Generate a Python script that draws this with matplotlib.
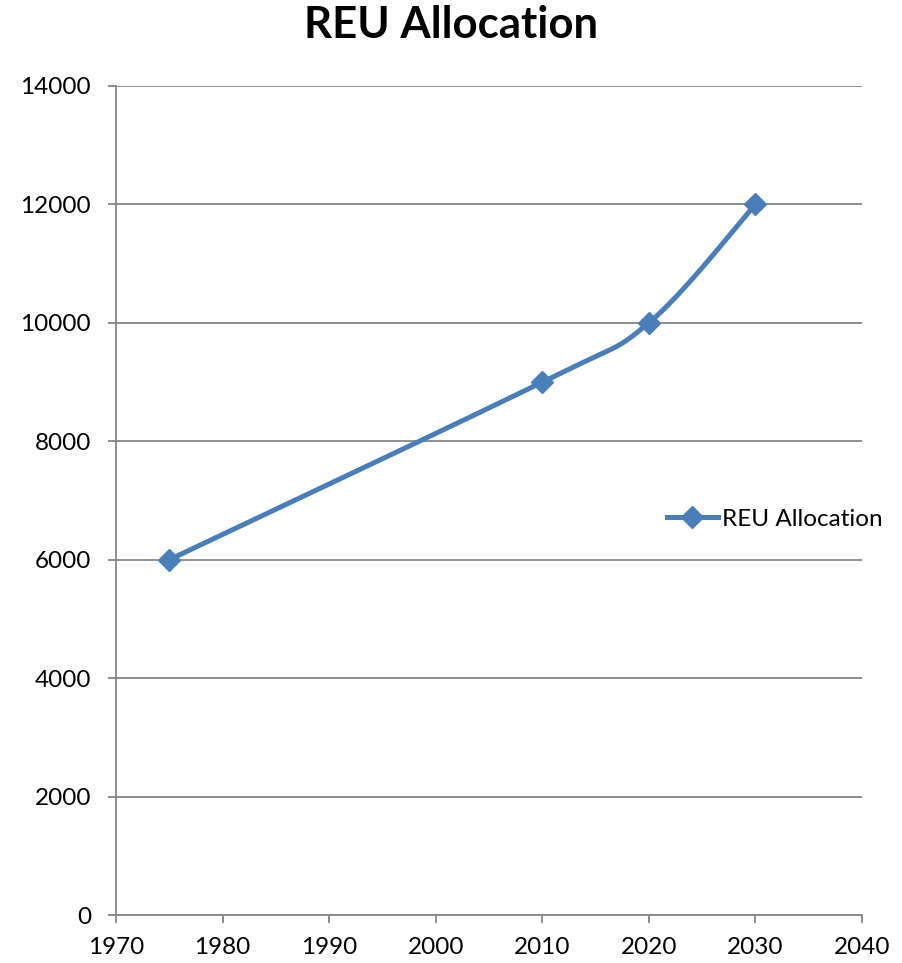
import numpy as np
import matplotlib
matplotlib.use("Agg")
import matplotlib.pyplot as plt
from matplotlib.lines import Line2D

plt.rcParams['font.family'] = ['Lato', 'DejaVu Sans']

years = [1975, 2010, 2020, 2030]
allocation = [6000, 9000, 10000, 12000]
x_ticks = [1970, 1980, 1990, 2000, 2010, 2020, 2030, 2040]
y_ticks = [0, 2000, 4000, 6000, 8000, 10000, 12000, 14000]

line_color = '#4A7EBB'
grid_color = '#878787'


def smooth_curve(xs, ys, n=60):
    """Cubic Bezier segments through the points, Catmull-Rom style handles."""
    pts = np.column_stack([xs, ys]).astype(float)
    out = []
    for i in range(len(pts) - 1):
        p0 = pts[i - 1] if i > 0 else pts[i]
        p1 = pts[i]
        p2 = pts[i + 1]
        p3 = pts[i + 2] if i + 2 < len(pts) else pts[i + 1]
        c1 = p1 + (p2 - p0) / 6.0
        c2 = p2 - (p3 - p1) / 6.0
        t = np.linspace(0, 1, n)[:, None]
        seg = ((1 - t) ** 3) * p1 + 3 * ((1 - t) ** 2) * t * c1 + 3 * (1 - t) * t ** 2 * c2 + t ** 3 * p2
        out.append(seg if i == 0 else seg[1:])
    curve = np.vstack(out)
    return curve[:, 0], curve[:, 1]


fig = plt.figure(figsize=(9.02, 9.63), dpi=100)
ax = fig.add_axes([116 / 902, 1 - 915 / 963, (862 - 116) / 902, (915 - 86) / 963])

# The curve is smoothed in display space so its shape follows the drawn aspect
sx = np.array(years, float)
sy = np.array(allocation, float)
fx = (sx - 1970) / 70.0 * 746
fy = sy / 14000.0 * 829
cx, cy = smooth_curve(fx, fy)
ax.plot(cx / 746 * 70 + 1970, cy / 829 * 14000, color=line_color, lw=3.6,
        solid_capstyle='round', zorder=3)
ax.plot(years, allocation, linestyle='none', marker='D', markersize=11,
        color=line_color, zorder=4)

ax.set_xlim(1970, 2040)
ax.set_ylim(0, 14000)
ax.set_xticks(x_ticks)
ax.set_yticks(y_ticks)
ax.yaxis.grid(True, color=grid_color, lw=1.3)
ax.set_axisbelow(True)
for s in ['top', 'right']:
    ax.spines[s].set_visible(False)
for s in ['left', 'bottom']:
    ax.spines[s].set_color(grid_color)
    ax.spines[s].set_linewidth(1.3)
ax.tick_params(axis='both', colors=grid_color, length=6, width=1.3,
               labelcolor='black', labelsize=17.5)
ax.tick_params(axis='y', pad=12)
ax.tick_params(axis='x', pad=10)

fig.text(0.5, 1 - 25 / 963, 'REU Allocation', fontsize=31.5, fontweight='bold',
         ha='center', va='center')

handle = Line2D([], [], color=line_color, lw=3.6, marker='D', markersize=11)
fig.legend([handle], ['REU Allocation'], loc='center left',
           bbox_to_anchor=(645 / 902, 1 - 519 / 963), frameon=False,
           fontsize=17.5, handlelength=2.1, handletextpad=0.15)

fig.savefig('out.png', dpi=100)
